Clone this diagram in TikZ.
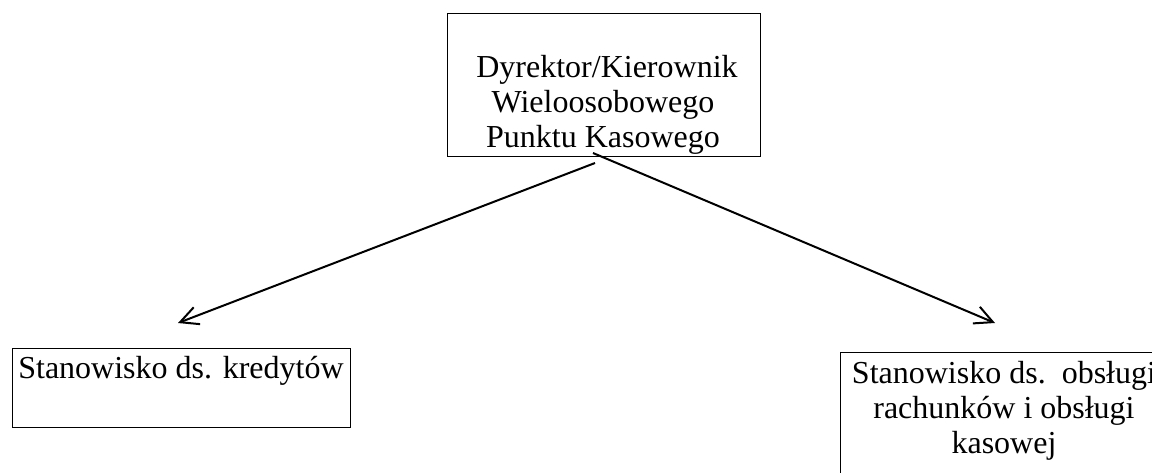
\documentclass[tikz,border=0pt]{standalone}
\usepackage{fontspec}
\setmainfont{Liberation Serif}
\usetikzlibrary{arrows.meta}
\begin{document}
\begin{tikzpicture}[x=0.5pt,y=-0.5pt,
  box/.style={draw,line width=0.5pt,inner sep=0pt},
  txt/.style={align=center,inner sep=0pt,font=\fontsize{16}{17.5}\selectfont}]
\useasboundingbox (0,0) rectangle (1152,472);
\node[box,minimum width=156.5pt,minimum height=71.5pt](dyr) at (603.5,84.5){};
\node[txt,anchor=north](dyrtxt) at (603,55){\ Dyrektor/Kierownik\\Wieloosobowego\\Punktu Kasowego};
\node[box,minimum width=169pt,minimum height=39.5pt](kred) at (181,387.5){};
\node[txt,anchor=base](kredtxt) at (181,378){Stanowisko ds. kredytów};
\node[box,minimum width=164pt,minimum height=69pt](kasa) at (1004,421){};
\node[txt,anchor=north](kasatxt) at (1004,361){Stanowisko ds.\ \ obsługi\\rachunków i obsługi\\kasowej};
\coordinate (dyrL) at (595,163);
\coordinate (dyrR) at (593,153);
\coordinate (kredA) at (178,323);
\coordinate (kasaA) at (995,323);
\draw[->,>={Straight Barb[length=9pt,width=9pt]},line width=1pt](dyrL)--(kredA);
\draw[->,>={Straight Barb[length=9pt,width=9pt]},line width=1pt](dyrR)--(kasaA);
\end{tikzpicture}
\end{document}
